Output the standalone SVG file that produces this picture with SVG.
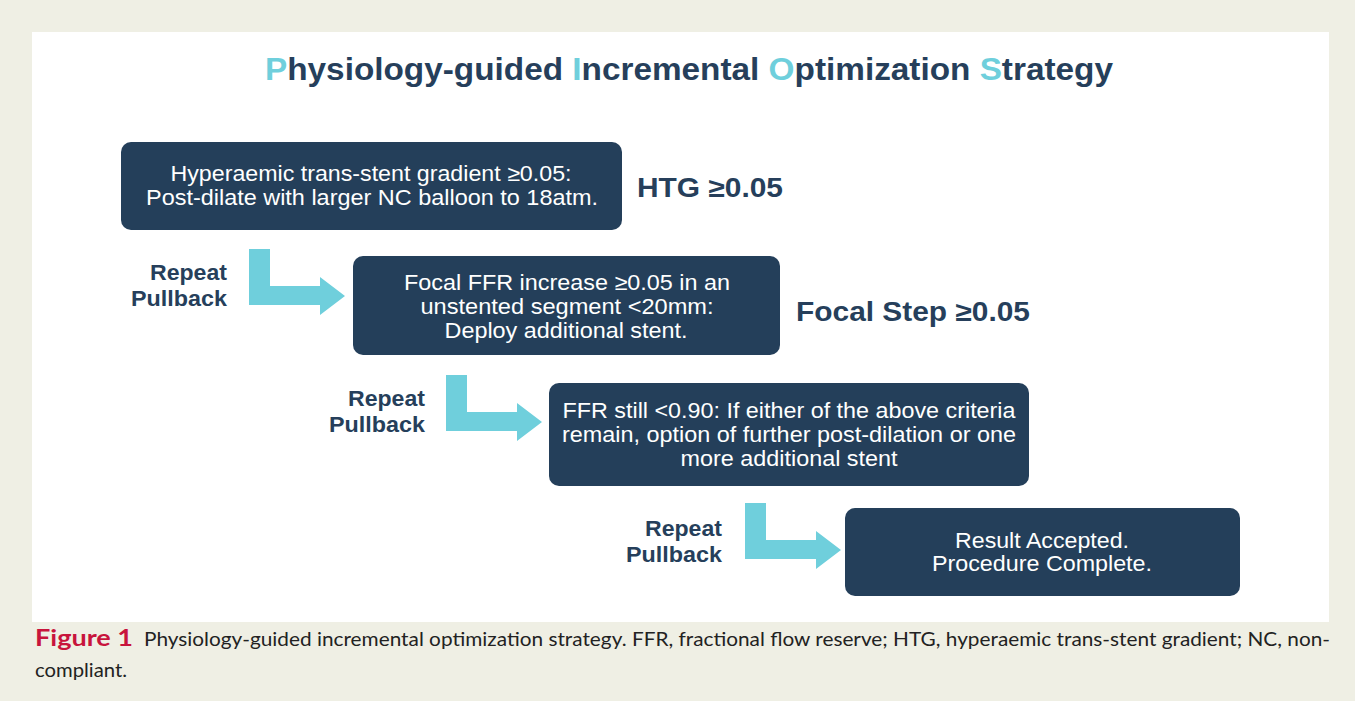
<svg xmlns="http://www.w3.org/2000/svg" width="1355" height="701" viewBox="0 0 1355 701">
<style>
.box{fill:#243f5a;}
.bt{font-family:"Liberation Sans",Arial,sans-serif;font-size:22px;fill:#ffffff;text-anchor:middle;}
.lbl{font-family:"Liberation Sans",Arial,sans-serif;font-weight:bold;fill:#263f5b;}
.rp{font-family:"Liberation Sans",Arial,sans-serif;font-weight:bold;font-size:22px;fill:#263f5b;text-anchor:end;}
.arr{fill:#6fcfdc;}
.cap{font-family:"Lato","Liberation Sans",sans-serif;font-size:19px;fill:#222;}
</style>
<rect x="0" y="0" width="1355" height="701" fill="#efefe4"/>
<rect x="32" y="32" width="1297" height="590" fill="#ffffff"/>
<text x="689" y="80" text-anchor="middle" textLength="848" lengthAdjust="spacingAndGlyphs" font-family="Liberation Sans, Arial, sans-serif" font-weight="bold" font-size="31" fill="#263f5b"><tspan fill="#6fcfdc">P</tspan>hysiology-guided <tspan fill="#6fcfdc">I</tspan>ncremental <tspan fill="#6fcfdc">O</tspan>ptimization <tspan fill="#6fcfdc">S</tspan>trategy</text>
<g id="connectors">
<polygon class="arr" points="249,249 270,249 270,286 320,286 320,277 345,296 320,315 320,305 249,305"/>
<polygon class="arr" points="446,375 467,375 467,412 517,412 517,403 542,422 517,441 517,431 446,431"/>
<polygon class="arr" points="745,503 766,503 766,540 816,540 816,531 841,550 816,569 816,559 745,559"/>
<text class="rp" x="227" y="280" textLength="77" lengthAdjust="spacingAndGlyphs">Repeat</text>
<text class="rp" x="227" y="306" textLength="96" lengthAdjust="spacingAndGlyphs">Pullback</text>
<text class="rp" x="425" y="406" textLength="77" lengthAdjust="spacingAndGlyphs">Repeat</text>
<text class="rp" x="425" y="432" textLength="96" lengthAdjust="spacingAndGlyphs">Pullback</text>
<text class="rp" x="722" y="536" textLength="77" lengthAdjust="spacingAndGlyphs">Repeat</text>
<text class="rp" x="722" y="562" textLength="96" lengthAdjust="spacingAndGlyphs">Pullback</text>
</g>
<g id="node1">
<rect class="box" x="121" y="142" width="501" height="88" rx="10"/>
<text class="bt" x="371" y="181" textLength="401" lengthAdjust="spacingAndGlyphs">Hyperaemic trans-stent gradient ≥0.05:</text>
<text class="bt" x="372" y="205" textLength="452" lengthAdjust="spacingAndGlyphs">Post-dilate with larger NC balloon to 18atm.</text>
</g>
<g id="label-htg">
<text class="lbl" x="637" y="197" font-size="27" textLength="146" lengthAdjust="spacingAndGlyphs">HTG ≥0.05</text>
</g>
<g id="node2">
<rect class="box" x="353" y="256" width="427" height="99" rx="10"/>
<text class="bt" x="567" y="290" textLength="326" lengthAdjust="spacingAndGlyphs">Focal FFR increase ≥0.05 in an</text>
<text class="bt" x="567" y="314" textLength="293" lengthAdjust="spacingAndGlyphs">unstented segment &lt;20mm:</text>
<text class="bt" x="566" y="338" textLength="243" lengthAdjust="spacingAndGlyphs">Deploy additional stent.</text>
</g>
<g id="label-focal">
<text class="lbl" x="796" y="321" font-size="27" textLength="234" lengthAdjust="spacingAndGlyphs">Focal Step ≥0.05</text>
</g>
<g id="node3">
<rect class="box" x="549" y="383" width="480" height="103" rx="10"/>
<text class="bt" x="789" y="418" textLength="453" lengthAdjust="spacingAndGlyphs">FFR still &lt;0.90: If either of the above criteria</text>
<text class="bt" x="789" y="442" textLength="454" lengthAdjust="spacingAndGlyphs">remain, option of further post-dilation or one</text>
<text class="bt" x="789" y="466" textLength="217" lengthAdjust="spacingAndGlyphs">more additional stent</text>
</g>
<g id="node4">
<rect class="box" x="845" y="508" width="395" height="88" rx="10"/>
<text class="bt" x="1042" y="548" textLength="174" lengthAdjust="spacingAndGlyphs">Result Accepted.</text>
<text class="bt" x="1042" y="571" textLength="220" lengthAdjust="spacingAndGlyphs">Procedure Complete.</text>
</g>
<g id="caption">
<text x="35" y="646" font-family="Lato, Liberation Sans, sans-serif" font-weight="bold" font-size="22" fill="#c8143c" textLength="98" lengthAdjust="spacingAndGlyphs">Figure 1</text>
<text class="cap" x="144" y="646" textLength="1186" lengthAdjust="spacingAndGlyphs">Physiology-guided incremental optimization strategy. FFR, fractional flow reserve; HTG, hyperaemic trans-stent gradient; NC, non-</text>
<text class="cap" x="35" y="677" textLength="92" lengthAdjust="spacingAndGlyphs">compliant.</text>
</g>
</svg>
